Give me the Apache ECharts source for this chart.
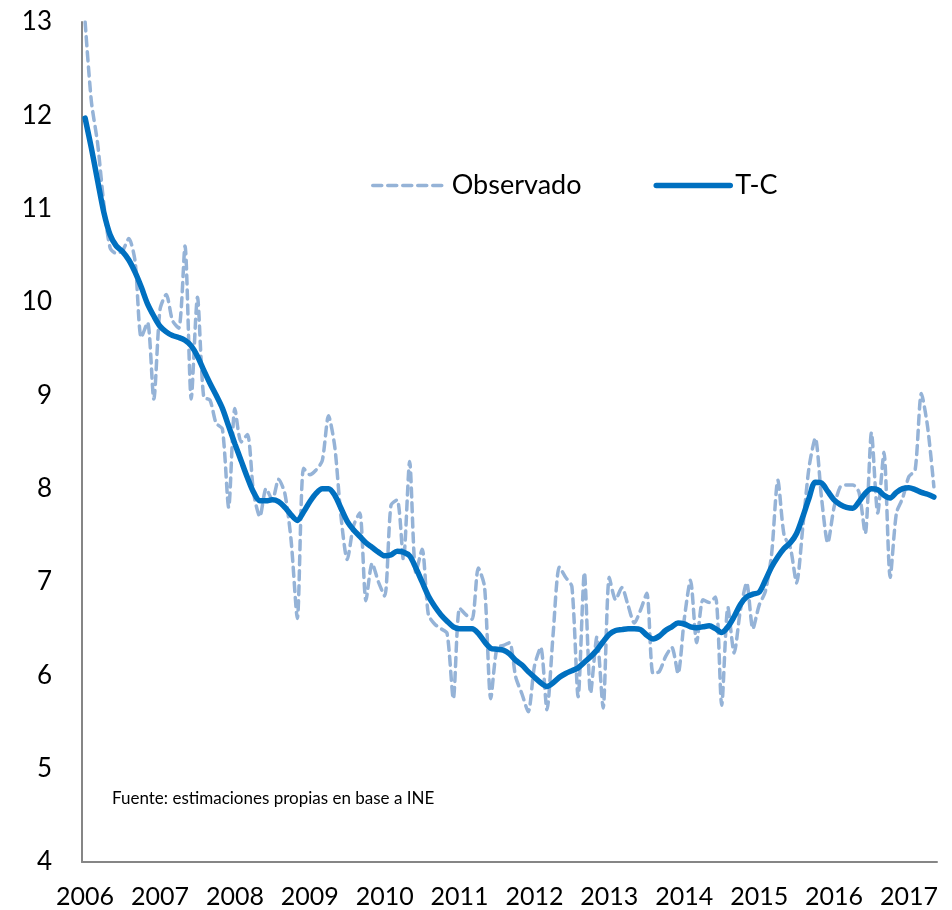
<!DOCTYPE html>
<html>
<head>
<meta charset="utf-8">
<script src="https://cdn.jsdelivr.net/npm/echarts@6/dist/echarts.min.js"></script>
<style>
  html, body { margin: 0; padding: 0; background: #fff; }
  #chart { width: 952px; height: 910px; }
</style>
</head>
<body>
<div id="chart"></div>
<script>
// años del eje, datos mensuales ene-2006 .. may-2017
const years = ['2006', '2007', '2008', '2009', '2010', '2011', '2012', '2013', '2014', '2015', '2016', '2017'];
const monthsIn2017 = 5;

// serie observada
const observado = [
  13.0, 12.15, 11.7, 11.05, 10.58, 10.52, 10.55, 10.68, 10.44, 9.62, 9.78, 8.96,
  9.92, 10.08, 9.8, 9.72, 10.6, 8.96, 10.05, 8.98, 8.95, 8.7, 8.64, 7.8,
  8.86, 8.5, 8.58, 7.95, 7.7, 8.0, 7.88, 8.1, 7.95, 7.45, 6.61, 8.22,
  8.15, 8.2, 8.3, 8.78, 8.45, 7.7, 7.24, 7.6, 7.74, 6.8, 7.2, 7.0,
  6.85, 7.82, 7.88, 7.24, 8.29, 7.1, 7.35, 6.65, 6.55, 6.5, 6.45, 5.75,
  6.72, 6.65, 6.6, 7.15, 6.95, 5.75, 6.3, 6.32, 6.35, 5.98, 5.8, 5.61,
  6.1, 6.3, 5.63, 6.45, 7.16, 7.05, 6.95, 5.77, 7.1, 5.81, 6.41, 5.65,
  7.05, 6.81, 6.94, 6.75, 6.56, 6.7, 6.88, 6.02, 6.04, 6.2, 6.3, 6.02,
  6.6, 7.02, 6.35, 6.81, 6.78, 6.84, 5.68, 6.73, 6.24, 6.7, 6.99, 6.5,
  6.75, 6.9, 7.3, 8.09, 7.5, 7.37, 6.99, 7.59, 8.23, 8.54, 7.9, 7.42,
  7.8, 8.02, 8.04, 8.04, 7.96, 7.52, 8.6, 7.74, 8.39, 7.05, 7.74, 7.9,
  8.13, 8.2, 9.02, 8.66, 8.02
];

// tendencia-ciclo
const tendencia = [
  11.97, 11.65, 11.30, 10.96, 10.72, 10.60, 10.54, 10.45, 10.32, 10.16, 9.98, 9.85,
  9.74, 9.68, 9.64, 9.62, 9.59, 9.53, 9.42, 9.27, 9.13, 9.00, 8.86, 8.67,
  8.48, 8.30, 8.12, 7.96, 7.87, 7.87, 7.88, 7.86, 7.80, 7.72, 7.66, 7.75,
  7.86, 7.95, 8.00, 8.00, 7.93, 7.79, 7.65, 7.56, 7.49, 7.42, 7.37, 7.32,
  7.28, 7.29, 7.33, 7.32, 7.28, 7.15, 7.00, 6.85, 6.74, 6.65, 6.58, 6.52,
  6.50, 6.50, 6.50, 6.45, 6.36, 6.29, 6.28, 6.27, 6.23, 6.16, 6.11, 6.04,
  5.98, 5.92, 5.88, 5.92, 5.98, 6.02, 6.05, 6.08, 6.14, 6.20, 6.27, 6.36,
  6.44, 6.48, 6.49, 6.50, 6.50, 6.49, 6.43, 6.39, 6.42, 6.48, 6.52, 6.56,
  6.55, 6.52, 6.51, 6.52, 6.53, 6.50, 6.46, 6.52, 6.63, 6.76, 6.84, 6.87,
  6.89, 7.02, 7.16, 7.27, 7.36, 7.42, 7.52, 7.70, 7.90, 8.07, 8.06, 7.97,
  7.88, 7.83, 7.80, 7.79, 7.86, 7.95, 8.00, 7.99, 7.93, 7.90, 7.96, 8.00,
  8.01, 7.99, 7.96, 7.94, 7.91
];

// categorias mensuales "2006-01" ...
const meses = [];
years.forEach(function (y, k) {
  const n = k === years.length - 1 ? monthsIn2017 : 12;
  for (let m = 1; m <= n; m++) meses.push(y + '-' + (m < 10 ? '0' + m : m));
});

const fontFam = 'Lato, "Open Sans", sans-serif';
const chart = echarts.init(document.getElementById('chart'));
chart.setOption({
  animation: false,
  backgroundColor: '#fff',
  grid: { left: 82, right: 15, top: 22, bottom: 48 },
  legend: {
    left: 366,
    top: 167,
    itemWidth: 74,
    itemHeight: 14,
    itemGap: 72,
    itemStyle: { opacity: 0 },
    textStyle: { fontSize: 27, color: '#000', fontFamily: fontFam },
    data: [
      { name: 'Observado', lineStyle: { width: 3.5 } },
      { name: 'T-C', lineStyle: { width: 5.5 } }
    ]
  },
  xAxis: {
    type: 'category',
    data: meses,
    boundaryGap: true,
    axisLine: { lineStyle: { color: '#868686', width: 2 } },
    axisTick: { show: false },
    axisLabel: {
      interval: function (idx) { return idx % 12 === 0; },
      formatter: function (v) { return v.slice(0, 4); },
      fontSize: 25,
      color: '#000',
      fontFamily: fontFam,
      margin: 22
    },
    splitLine: { show: false }
  },
  yAxis: {
    type: 'value',
    min: 4,
    max: 13,
    interval: 1,
    axisLine: { show: true, lineStyle: { color: '#868686', width: 2 } },
    axisTick: { show: false },
    axisLabel: { fontSize: 26, color: '#000', fontFamily: fontFam, margin: 30 },
    splitLine: { show: false }
  },
  series: [
    {
      name: 'Observado',
      type: 'line',
      data: observado,
      symbol: 'none',
      smooth: 0.25,
      lineStyle: { color: '#95B3D7', width: 3.5, type: [9, 6], cap: 'round' },
      itemStyle: { color: '#95B3D7' }
    },
    {
      name: 'T-C',
      type: 'line',
      data: tendencia,
      symbol: 'none',
      smooth: 0.3,
      lineStyle: { color: '#0070C0', width: 5.5, cap: 'round' },
      itemStyle: { color: '#0070C0' },
      z: 3
    }
  ],
  graphic: [{
    type: 'text',
    left: 112,
    top: 790,
    style: {
      text: 'Fuente: estimaciones propias en base a INE',
      fontSize: 17,
      fill: '#000',
      fontFamily: fontFam
    }
  }]
});
</script>
</body>
</html>
